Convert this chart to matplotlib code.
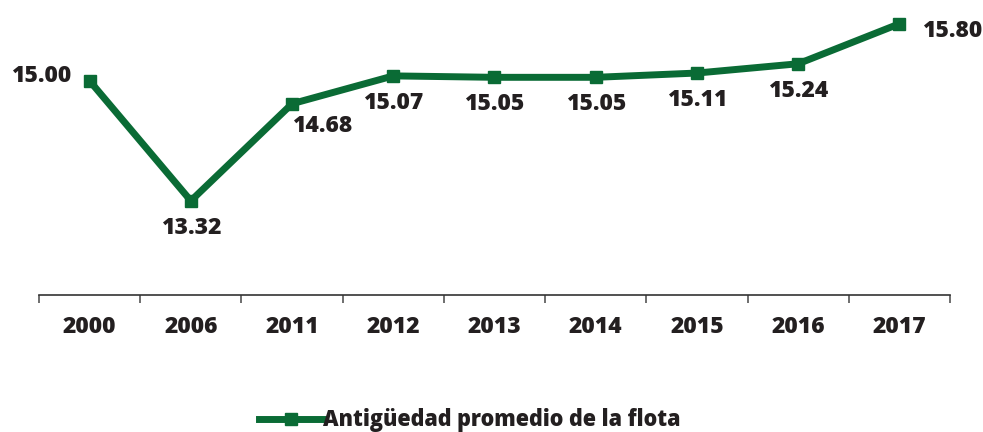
import matplotlib
matplotlib.use("Agg")
import matplotlib.pyplot as plt
import numpy as np

years = ["2000", "2006", "2011", "2012", "2013", "2014", "2015", "2016", "2017"]
values = [15.00, 13.32, 14.68, 15.07, 15.05, 15.05, 15.11, 15.24, 15.80]
series_name = "Antigüedad promedio de la flota"

color = "#0a6b35"
plt.rcParams['font.family'] = ['Open Sans', 'DejaVu Sans']
W = 800

fig = plt.figure(figsize=(9.83, 4.32), dpi=100)
ax = fig.add_axes([0.0397, 0.317, 0.9267, 0.661])
x = np.arange(len(years))
line, = ax.plot(x, values, color=color, lw=5, marker='s', markersize=9,
                solid_joinstyle='miter', label=series_name)

ax.set_xlim(-0.5, len(years) - 0.5)
ax.set_ylim(12, 16)
for s in ['top', 'right', 'left']:
    ax.spines[s].set_visible(False)
ax.spines['bottom'].set_color('#333333')
ax.spines['bottom'].set_linewidth(1.2)
ax.set_yticks([])
ax.set_xticks(x)
ax.set_xticklabels(years, fontsize=16.5, fontweight=W, color='#231f20')
ax.tick_params(axis='x', which='major', length=0, pad=14)
ax.set_xticks(np.arange(-0.5, len(years)), minor=True)
ax.tick_params(axis='x', which='minor', length=6, width=1.2, color='#555555')

fs = 16.5
for i, v in enumerate(values):
    txt = f"{v:.2f}"
    if i == 0:
        ax.annotate(txt, (i, v), xytext=(-13, 3.6), textcoords='offset points',
                    ha='right', va='center', fontsize=fs, fontweight=W, color='#231f20')
    elif i == len(values) - 1:
        ax.annotate(txt, (i, v), xytext=(16, -5), textcoords='offset points',
                    ha='left', va='center', fontsize=fs, fontweight=W, color='#231f20')
    elif i == 2:
        ax.annotate(txt, (i, v), xytext=(21.6, -16), textcoords='offset points',
                    ha='center', va='center', fontsize=fs, fontweight=W, color='#231f20')
    else:
        ax.annotate(txt, (i, v), xytext=(0, -19.5), textcoords='offset points',
                    ha='center', va='center', fontsize=fs, fontweight=W, color='#231f20')

leg = fig.legend(handles=[line], loc='center', bbox_to_anchor=(0.478, 0.027),
                 frameon=False, prop={'size': 15.5, 'weight': W},
                 handlelength=3.0, handletextpad=0.0, borderaxespad=0)
for t in leg.get_texts():
    t.set_color('#231f20')

fig.savefig("out.png", dpi=100)
